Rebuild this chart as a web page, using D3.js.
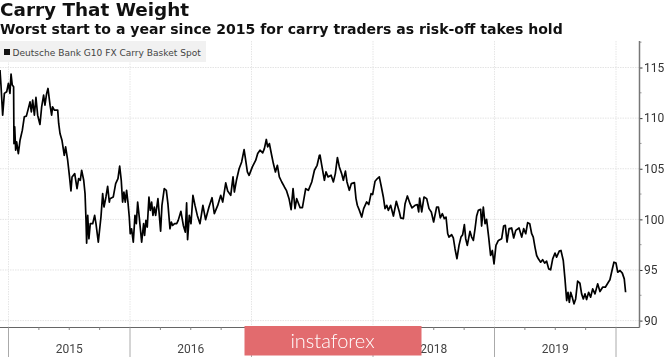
<!DOCTYPE html>
<html>
<head>
<meta charset="utf-8">
<script src="https://cdn.jsdelivr.net/npm/d3@7"></script>
<style>
  html, body { margin: 0; padding: 0; background: #fff; overflow: hidden; }
  svg { display: block; filter: blur(0.35px); }
</style>
</head>
<body>
<svg></svg>
<script>
// Values (decimal year, index level)
const years = [
  2014.930,2014.938,2014.952,2014.966,2014.985,2014.999,2015.012,2015.021,2015.031,2015.042,2015.045,2015.051,2015.059,2015.067,2015.081,2015.095,2015.114,2015.130,2015.147,2015.160,
  2015.177,2015.188,2015.199,2015.213,2015.226,2015.240,2015.259,2015.273,2015.289,2015.300,2015.314,2015.325,2015.342,2015.355,2015.363,2015.377,2015.405,2015.413,2015.424,2015.440,
  2015.459,2015.470,2015.487,2015.501,2015.514,2015.523,2015.545,2015.564,2015.577,2015.591,2015.602,2015.619,2015.630,2015.638,2015.643,2015.652,2015.662,2015.673,2015.693,2015.709,
  2015.720,2015.739,2015.761,2015.775,2015.786,2015.802,2015.816,2015.830,
  2015.835,2015.862,2015.882,2015.901,2015.915,2015.928,2015.939,2015.950,2015.961,2015.972,2015.983,2015.994,2016.002,2016.013,2016.027,2016.041,2016.052,2016.063,2016.076,2016.096,
  2016.112,2016.120,2016.131,2016.142,2016.156,2016.167,2016.178,2016.189,2016.200,2016.211,2016.230,2016.252,2016.263,2016.282,2016.299,2016.312,2016.329,2016.340,2016.351,2016.367,
  2016.384,2016.397,2016.419,2016.439,2016.455,2016.466,2016.474,2016.488,2016.502,2016.518,2016.535,2016.554,2016.576,2016.600,2016.622,2016.650,2016.675,2016.694,
  2016.722,2016.747,2016.763,2016.788,2016.804,2016.829,2016.848,2016.859,2016.876,2016.898,2016.919,2016.939,2016.952,2016.966,2016.980,2017.007,2017.035,2017.051,2017.070,2017.092,
  2017.106,2017.122,2017.133,2017.147,2017.166,2017.180,2017.197,2017.213,2017.229,2017.249,2017.271,2017.287,2017.309,2017.326,2017.342,2017.358,2017.372,2017.400,2017.419,2017.446,
  2017.468,2017.496,2017.518,2017.540,2017.559,
  2017.564,2017.578,2017.600,2017.613,2017.630,2017.655,2017.674,2017.690,2017.707,2017.723,2017.742,2017.756,2017.773,2017.786,2017.805,2017.822,2017.847,2017.860,2017.871,2017.888,
  2017.907,2017.923,2017.948,2017.965,2017.984,2017.997,2018.017,2018.036,2018.052,2018.069,2018.085,2018.099,2018.113,2018.126,2018.145,2018.168,2018.192,2018.217,2018.228,2018.250,
  2018.264,2018.283,2018.305,2018.321,2018.346,2018.365,2018.376,2018.384,2018.401,2018.420,
  2018.442,2018.461,2018.480,2018.499,2018.524,2018.538,2018.554,2018.571,2018.587,2018.601,2018.615,2018.626,2018.647,2018.661,2018.675,2018.691,2018.708,2018.724,2018.738,2018.752,
  2018.763,2018.776,2018.798,2018.812,2018.826,2018.840,2018.853,2018.867,2018.886,2018.894,2018.908,2018.922,2018.935,2018.952,2018.968,2018.982,2018.996,2019.012,2019.032,2019.059,
  2019.075,2019.089,2019.103,2019.120,2019.141,2019.158,2019.175,2019.202,2019.224,2019.240,2019.257,2019.273,2019.290,
  2019.306,2019.319,2019.333,2019.347,2019.361,2019.380,2019.396,2019.413,2019.429,2019.446,2019.462,2019.479,2019.498,2019.511,2019.533,2019.547,2019.566,2019.580,2019.594,2019.605,
  2019.616,2019.627,2019.640,2019.654,2019.668,2019.684,2019.703,2019.717,2019.731,2019.745,2019.758,2019.775,2019.791,2019.808,2019.827,2019.849,2019.868,2019.890,2019.912,2019.937,
  2019.950,2019.967,2019.983,2020.000,2020.014,2020.033,2020.052,2020.068,2020.079
];
const values = [
  114.75,113.27,110.29,112.44,112.6,113.43,112.44,114.35,113.27,113.1,107.49,109.14,106.83,107.65,106.5,107.82,108.81,110.13,110.2,110.79,
  111.6,110.62,111.78,110.29,112.04,110.29,109.37,111.12,112.27,111.28,112.44,112.93,111.28,110.29,111.12,110.79,110.79,109.47,108.48,107.82,
  106.33,107.16,105.84,104.35,102.8,104.19,104.52,103.03,104.02,103.86,104.85,103.86,102.54,99.9,97.65,100.39,98.08,99.57,99.57,100.39,
  99.57,97.75,100.23,102.54,101.22,102.21,103.26,101.71,
  102.04,102.2,103.53,104.03,105.25,103.86,101.71,102.7,101.71,102.87,101.71,100.23,98.58,99.07,97.75,100.39,99.57,101.71,100.23,97.75,
  99.57,98.41,99.9,99.24,102.21,100.89,101.71,100.39,101.22,100.39,102.04,98.84,101.38,103.03,102.87,101.55,99.07,99.73,99.4,99.57,
  99.57,99.9,100.79,99.4,98.74,101.62,97.99,100.39,99.57,102.37,101.38,100.39,99.57,101.38,99.97,101.22,102.14,100.56,
  101.38,102.37,101.71,103.6,102.8,102.37,104.19,102.7,103.86,105.0,105.67,106.89,105.84,104.68,104.35,105.18,105.84,106.5,106.83,106.57,
  106.99,107.89,107.16,107.49,106.33,105.51,104.68,105.34,104.19,103.69,103.2,102.87,102.04,100.96,103.03,101.05,102.04,101.15,101.15,103.03,
  102.87,103.69,104.85,105.34,106.33,
  106.34,105.35,103.86,104.69,104.19,104.36,103.7,104.52,106.11,105.18,104.52,103.86,104.76,103.7,102.87,103.53,103.63,102.05,101.39,100.89,
  100.23,101.06,101.72,101.46,102.54,102.44,103.77,104.03,104.2,103.2,102.21,101.06,101.39,100.89,101.39,100.33,101.79,100.73,100.14,100.07,
  101.55,102.31,101.55,101.13,101.39,101.46,100.73,102.11,100.73,102.21,
  102.05,101.06,100.73,99.74,101.22,101.22,100.14,100.56,100.07,100.23,98.58,98.25,98.49,98.16,97.1,96.11,97.43,98.25,98.49,99.48,
  98.09,97.43,98.82,98.25,97.92,99.08,100.33,100.89,100.99,99.34,101.22,99.57,100.0,98.25,96.44,96.93,95.6,97.43,97.92,98.09,
  99.34,99.41,97.76,99.08,99.15,98.16,98.91,99.15,98.25,99.08,98.58,99.67,99.57,
  98.58,98.25,97.26,96.43,96.1,95.77,96.01,95.68,95.87,95.11,95.02,96.1,96.67,96.27,96.86,96.93,95.94,94.12,91.98,92.8,
  91.81,92.8,92.31,91.65,92.14,93.89,93.69,92.64,92.14,92.64,92.08,92.8,92.31,93.13,92.64,93.63,92.87,93.3,93.3,93.79,
  94.03,94.95,95.77,95.68,94.78,94.95,94.69,94.12,92.8
];
const yTicks = [90, 95, 100, 105, 110, 115];
const yMinorTicks = [92.5, 97.5, 102.5, 107.5, 112.5, 117.5];
const yearLabels = [2015, 2016, 2018, 2019]; // 2017 sits behind the banner in the reference
const yearEdges = [2015, 2016, 2017, 2018, 2019, 2020];
const quarterTicks = d3.range(2015, 2020.01, 0.25).filter(d => d % 1 !== 0);

const width = 665;
const height = 357;
const axisX = 639.5;
const axisY = 327.5;
const plotTop = 41;

const svg = d3.select("svg")
    .attr("width", width)
    .attr("height", height);

const x = d3.scaleLinear().domain([2015, 2020]).range([8.5, 616]);
const y = d3.scaleLinear().domain([90, 115]).range([320.6, 67.5]);

// Dotted gridlines
svg.append("g").selectAll("line")
    .data(yTicks)
    .enter().append("line")
    .attr("x1", 0).attr("x2", axisX)
    .attr("y1", d => y(d)).attr("y2", d => y(d))
    .attr("stroke", "#e4e4e4")
    .attr("stroke-dasharray", "1.5 1");

svg.append("g").selectAll("line")
    .data(yearEdges)
    .enter().append("line")
    .attr("x1", d => x(d)).attr("x2", d => x(d))
    .attr("y1", plotTop).attr("y2", axisY)
    .attr("stroke", "#e6e6e6")
    .attr("stroke-dasharray", "1.5 1");

// Legend box
svg.append("rect")
    .attr("x", 0).attr("y", 41)
    .attr("width", 206).attr("height", 21)
    .attr("fill", "#f1f1f1");
svg.append("rect")
    .attr("x", 4).attr("y", 49)
    .attr("width", 6).attr("height", 6)
    .attr("fill", "#111");
svg.append("text")
    .attr("x", 12.5).attr("y", 56)
    .attr("font-family", "'DejaVu Sans', sans-serif")
    .attr("font-size", 9.05)
    .attr("fill", "#444")
    .text("Deutsche Bank G10 FX Carry Basket Spot");

// Price line
const line = d3.line()
    .x((d, i) => x(years[i]))
    .y(d => y(d));

svg.append("path")
    .datum(values)
    .attr("d", line)
    .attr("fill", "none")
    .attr("stroke", "#000")
    .attr("stroke-width", 1.7)
    .attr("stroke-linejoin", "round");

// Right axis
const yAxis = svg.append("g")
    .attr("transform", `translate(${axisX},0)`)
    .call(d3.axisRight(y).tickValues(yTicks).tickSize(3).tickPadding(1.5).tickFormat(d3.format("d")));
yAxis.select(".domain").remove();
yAxis.selectAll("line").attr("stroke", "#333");
yAxis.selectAll("text")
    .attr("font-family", "Roboto, sans-serif")
    .attr("font-size", 12)
    .attr("fill", "#333");

svg.append("g").selectAll("line")
    .data(yMinorTicks)
    .enter().append("line")
    .attr("x1", axisX).attr("x2", axisX + 2)
    .attr("y1", d => y(d)).attr("y2", d => y(d))
    .attr("stroke", "#999");

svg.append("line")
    .attr("x1", axisX).attr("x2", axisX)
    .attr("y1", plotTop).attr("y2", axisY)
    .attr("stroke", "#777")
    .attr("stroke-width", 1.5);

// Bottom axis
svg.append("line")
    .attr("x1", 0).attr("x2", axisX)
    .attr("y1", axisY).attr("y2", axisY)
    .attr("stroke", "#666");

svg.append("g").selectAll("line")
    .data(yearEdges)
    .enter().append("line")
    .attr("x1", d => x(d)).attr("x2", d => x(d))
    .attr("y1", axisY).attr("y2", height)
    .attr("stroke", "#aaa");

svg.append("g").selectAll("line")
    .data(quarterTicks)
    .enter().append("line")
    .attr("x1", d => x(d)).attr("x2", d => x(d))
    .attr("y1", axisY).attr("y2", axisY + 2.5)
    .attr("stroke", "#888");

svg.append("g").selectAll("text")
    .data(yearLabels)
    .enter().append("text")
    .attr("x", d => x(d + 0.5))
    .attr("y", 353)
    .attr("text-anchor", "middle")
    .attr("font-family", "Roboto, sans-serif")
    .attr("font-size", 12)
    .attr("fill", "#444")
    .text(d => d);

// Titles
svg.append("text")
    .attr("x", 0).attr("y", 15.5)
    .attr("font-family", "'DejaVu Sans', sans-serif")
    .attr("font-weight", "bold")
    .attr("font-size", 18.4)
    .attr("fill", "#111")
    .text("Carry That Weight");
svg.append("text")
    .attr("x", 0).attr("y", 33.5)
    .attr("font-family", "'DejaVu Sans', sans-serif")
    .attr("font-weight", "bold")
    .attr("font-size", 14.05)
    .attr("fill", "#111")
    .text("Worst start to a year since 2015 for carry traders as risk-off takes hold");

// Watermark banner
svg.append("rect")
    .attr("x", 244.5).attr("y", 326)
    .attr("width", 177).attr("height", 29.5)
    .attr("fill", "#e26b6e");
svg.append("text")
    .attr("x", 332.5).attr("y", 347.5)
    .attr("text-anchor", "middle")
    .attr("font-family", "Lato, sans-serif")
    .attr("font-weight", 300)
    .attr("font-size", 20)
    .attr("fill", "#fff")
    .text("instaforex");
</script>
</body>
</html>
